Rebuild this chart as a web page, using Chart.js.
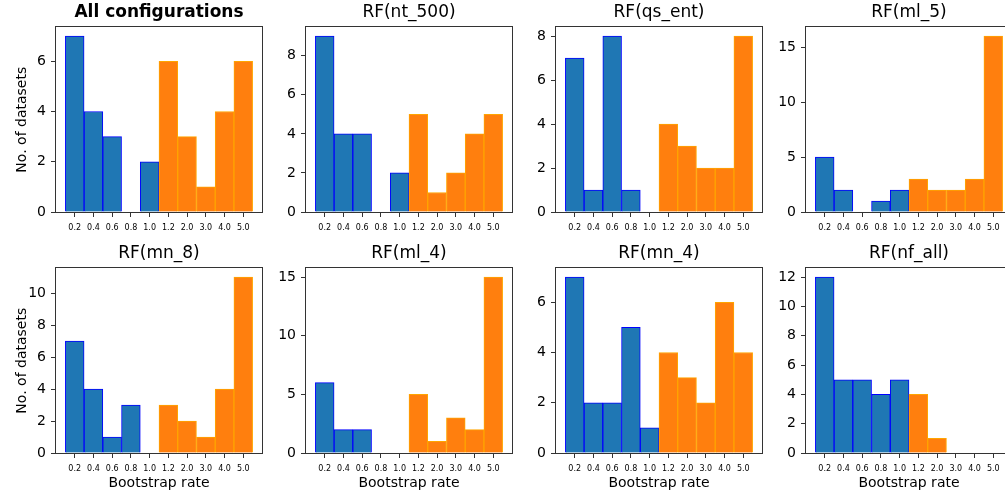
<!DOCTYPE html>
<html>
<head>
<meta charset="utf-8">
<script src="https://cdn.jsdelivr.net/npm/chart.js@4.4.1/dist/chart.umd.min.js"></script>
<style>
  html, body { margin: 0; padding: 0; background: #fff; overflow: hidden; }
  #wrap { position: relative; width: 1005px; height: 493px; }
  canvas { position: absolute; }
</style>
</head>
<body>
<div id="wrap"></div>
<script>
// bootstrap rates (x categories)
var rates = ["0.2", "0.4", "0.6", "0.8", "1.0", "1.2", "2.0", "3.0", "4.0", "5.0"];

// no. of datasets per rate, one array per panel
var allConfigs = [7, 4, 3, 0, 2, 6, 3, 1, 4, 6];
var nt500      = [9, 4, 4, 0, 2, 5, 1, 2, 4, 5];
var qsEnt      = [7, 1, 8, 1, 0, 4, 3, 2, 2, 8];
var ml5        = [5, 2, 0, 1, 2, 3, 2, 2, 3, 16];
var mn8        = [7, 4, 1, 3, 0, 3, 2, 1, 4, 11];
var ml4        = [6, 2, 2, 0, 0, 5, 1, 3, 2, 15];
var mn4        = [7, 2, 2, 5, 1, 4, 3, 2, 6, 4];
var nfAll      = [12, 5, 5, 4, 5, 4, 1, 0, 0, 0];

var titles = ["All configurations", "RF(nt_500)", "RF(qs_ent)", "RF(ml_5)",
              "RF(mn_8)", "RF(ml_4)", "RF(mn_4)", "RF(nf_all)"];
var series = [allConfigs, nt500, qsEnt, ml5, mn8, ml4, mn4, nfAll];
var yStep = [2, 2, 2, 5, 2, 5, 2, 2];

var FONT = "'DejaVu Sans', sans-serif";
var BLUE = "#1f77b4", BLUE_EDGE = "#0000ff";
var ORANGE = "#ff7f0e", ORANGE_EDGE = "#ffa500";
var AX = "#333";

var framePlugin = {
    id: "frame",
    afterDraw: function (chart) {
        var a = chart.chartArea, ctx = chart.ctx;
        ctx.save();
        ctx.strokeStyle = AX;
        ctx.lineWidth = 1;
        ctx.strokeRect(Math.round(a.left) - 0.5, Math.round(a.top) - 0.5,
                       Math.round(a.right - a.left) + 1, Math.round(a.bottom - a.top) + 1);
        ctx.restore();
    }
};

var wrap = document.getElementById("wrap");

series.forEach(function (vals, k) {
    var row = Math.floor(k / 4), col = k % 4;
    var canvas = document.createElement("canvas");
    var top = row == 0 ? 0 : 241;
    var h = row == 0 ? 240 : 252;
    canvas.width = 264;
    canvas.height = h;
    canvas.style.left = (250 * col) + "px";
    canvas.style.top = top + "px";
    wrap.appendChild(canvas);

    var ymax = Math.max.apply(null, vals) * 1.05;

    new Chart(canvas, {
        type: "bar",
        data: {
            datasets: [{
                data: vals.map(function (v, i) { return { x: i, y: v }; }),
                backgroundColor: function (c) { return c.dataIndex < 5 ? BLUE : ORANGE; },
                borderColor: function (c) { return c.dataIndex < 5 ? BLUE_EDGE : ORANGE_EDGE; },
                borderWidth: 1,
                categoryPercentage: 1,
                barPercentage: 1
            }]
        },
        options: {
            responsive: false,
            animation: false,
            events: [],
            layout: { padding: { left: 0, right: 2, top: 0, bottom: 0 } },
            plugins: {
                legend: { display: false },
                tooltip: { enabled: false },
                title: {
                    display: true,
                    fullSize: false,
                    text: titles[k],
                    color: "#000",
                    font: { family: FONT, size: 17, weight: k == 0 ? "bold" : "normal" },
                    padding: { top: 2, bottom: 5 }
                }
            },
            scales: {
                x: {
                    type: "linear",
                    min: -1,
                    max: 10,
                    offset: false,
                    afterBuildTicks: function (s) {
                        s.ticks = rates.map(function (r, i) { return { value: i }; });
                    },
                    afterFit: function (s) { s.height = row == 0 ? 28 : 40; },
                    ticks: {
                        autoSkip: false,
                        maxRotation: 0,
                        padding: 6,
                        color: "#000",
                        font: { family: FONT, size: 8 },
                        callback: function (v) { return rates[v]; }
                    },
                    grid: { offset: false, drawOnChartArea: false, drawTicks: true, tickLength: 5, color: AX },
                    border: { display: false },
                    title: {
                        display: row == 1,
                        text: "Bootstrap rate",
                        color: "#000",
                        font: { family: FONT, size: 14 },
                        padding: 1
                    }
                },
                y: {
                    min: 0,
                    max: ymax,
                    afterFit: function (s) { s.width = 56; },
                    ticks: {
                        stepSize: yStep[k],
                        includeBounds: false,
                        padding: 5,
                        color: "#000",
                        font: { family: FONT, size: 14 }
                    },
                    grid: { drawOnChartArea: false, drawTicks: true, tickLength: 5, color: AX },
                    border: { display: false },
                    title: {
                        display: col == 0,
                        text: "No. of datasets",
                        color: "#000",
                        font: { family: FONT, size: 14 },
                        padding: { top: 14, bottom: 0 }
                    }
                }
            }
        },
        plugins: [framePlugin]
    });
});
</script>
</body>
</html>
